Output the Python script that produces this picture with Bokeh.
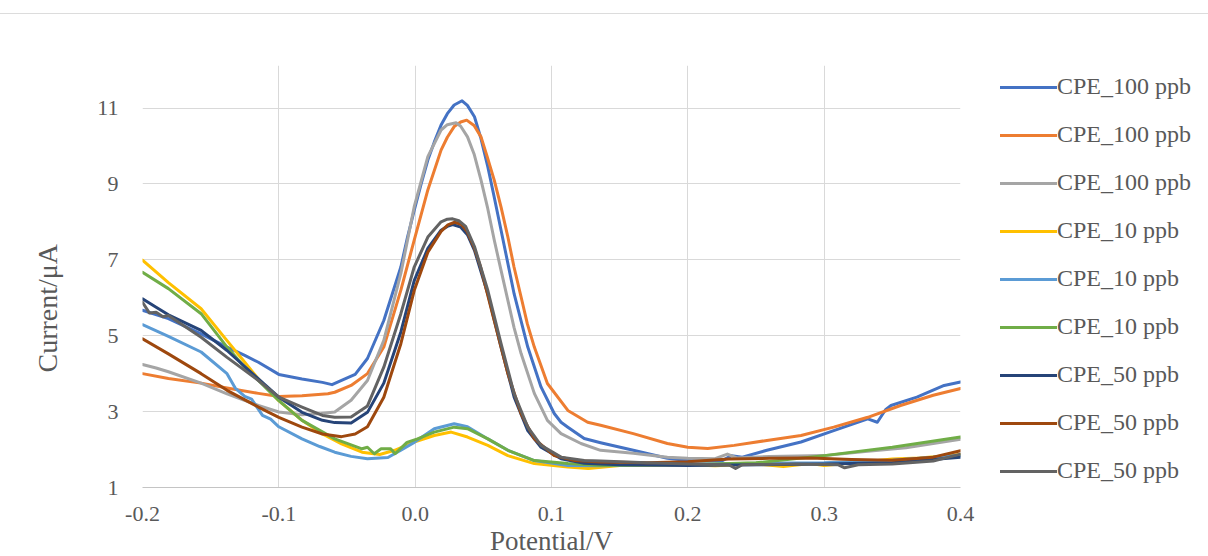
from bokeh.plotting import figure
from bokeh.models import (Range1d, FixedTicker, NumeralTickFormatter, Legend, LegendItem, Title)
from bokeh.embed import file_html
from bokeh.resources import INLINE

# ---- data (potential in V, current in uA) ----
labels = ["CPE_100 ppb", "CPE_100 ppb", "CPE_100 ppb",
          "CPE_10 ppb", "CPE_10 ppb", "CPE_10 ppb",
          "CPE_50 ppb", "CPE_50 ppb", "CPE_50 ppb"]
colors = ["#4472C4", "#ED7D31", "#A5A5A5", "#FFC000", "#5B9BD5",
          "#70AD47", "#264478", "#9E480E", "#636363"]

x_ticks = [-0.2, -0.1, 0.0, 0.1, 0.2, 0.3, 0.4]
y_ticks = [1, 3, 5, 7, 9, 11]

s1_x = [-0.2, -0.181, -0.157, -0.138, -0.125, -0.115, -0.1, -0.083, -0.068, -0.061, -0.054, -0.044,
        -0.035, -0.023, -0.0105, -0.0056, -0.0007, 0.0044, 0.0093, 0.014, 0.019, 0.0236, 0.0286,
        0.0344, 0.0383, 0.0435, 0.048, 0.0533, 0.058, 0.063,
        0.0726, 0.0826, 0.0923, 0.102, 0.107, 0.112, 0.124, 0.136, 0.16, 0.185, 0.2, 0.217, 0.225,
        0.232, 0.24, 0.258, 0.283, 0.307, 0.332, 0.339, 0.345, 0.349, 0.368, 0.388, 0.4]
s1_y = [5.67, 5.45, 5.05, 4.70, 4.48, 4.30, 3.98, 3.86, 3.77, 3.71, 3.82, 3.98,
        4.40, 5.40, 6.81, 7.60, 8.30, 9.00, 9.63, 10.10, 10.55, 10.85, 11.08,
        11.19, 11.07, 10.77, 10.23, 9.45, 8.65, 7.78,
        6.10, 4.70, 3.65, 2.95, 2.72, 2.59, 2.29, 2.18, 1.98, 1.77, 1.71, 1.72, 1.70,
        1.84, 1.80, 1.98, 2.20, 2.50, 2.81, 2.72, 3.05, 3.16, 3.38, 3.69, 3.78]

s2_x = [-0.2, -0.181, -0.157, -0.138, -0.115, -0.1, -0.083, -0.064, -0.059, -0.047, -0.035, -0.023,
        -0.0105, -0.0007, 0.0093, 0.019, 0.0236, 0.0286, 0.0334, 0.0378, 0.0432, 0.0483, 0.053,
        0.058, 0.063, 0.068, 0.0725, 0.0777, 0.0823, 0.0874,
        0.097, 0.112, 0.1265, 0.136, 0.16, 0.185, 0.2, 0.2146, 0.234, 0.258, 0.283, 0.307, 0.332,
        0.356, 0.38, 0.4]
s2_y = [4.00, 3.87, 3.75, 3.62, 3.48, 3.40, 3.42, 3.47, 3.51, 3.69, 4.00, 4.70,
        6.20, 7.52, 8.84, 9.89, 10.23, 10.51, 10.63, 10.68, 10.54, 10.24, 9.70,
        9.10, 8.39, 7.60, 6.81, 6.02, 5.31, 4.70,
        3.74, 3.03, 2.72, 2.64, 2.42, 2.16, 2.06, 2.03, 2.11, 2.24, 2.37, 2.59, 2.85,
        3.16, 3.43, 3.61]

s3_x = [-0.2, -0.19, -0.181, -0.157, -0.138, -0.115, -0.1, -0.083, -0.069, -0.059, -0.047, -0.035,
        -0.023, -0.0105, -0.0007, 0.0093, 0.019, 0.0236, 0.03, 0.0334, 0.0384, 0.0432, 0.0483,
        0.053, 0.058, 0.063, 0.068, 0.0725, 0.0777,
        0.0874, 0.097, 0.107, 0.1216, 0.136, 0.16, 0.185, 0.2, 0.22, 0.229, 0.236, 0.26, 0.3,
        0.33, 0.36, 0.4]
s3_y = [4.24, 4.15, 4.05, 3.75, 3.47, 3.16, 2.99, 2.92, 2.95, 2.99, 3.30, 3.82,
        4.88, 6.64, 8.40, 9.72, 10.42, 10.56, 10.61, 10.52, 10.24, 9.79, 9.10,
        8.39, 7.52, 6.72, 5.93, 5.22, 4.53,
        3.48, 2.77, 2.42, 2.16, 1.98, 1.90, 1.80, 1.77, 1.76, 1.88, 1.78, 1.82, 1.84,
        1.95, 2.05, 2.27]

s4_x = [-0.2, -0.181, -0.157, -0.138, -0.125, -0.115, -0.1, -0.083, -0.068, -0.054, -0.039, -0.026,
        -0.015, -0.0007, 0.014, 0.0264, 0.0384, 0.0533, 0.068, 0.0874, 0.112, 0.127, 0.15,
        0.2, 0.22, 0.25, 0.27, 0.29, 0.3, 0.33, 0.35, 0.37, 0.4]
s4_y = [6.99, 6.40, 5.71, 4.87, 4.30, 3.86, 3.29, 2.77, 2.41, 2.15, 1.93, 1.87,
        1.98, 2.20, 2.37, 2.46, 2.33, 2.11, 1.84, 1.63, 1.54, 1.50, 1.58,
        1.60, 1.57, 1.62, 1.55, 1.63, 1.58, 1.68, 1.75, 1.78, 1.87]

s5_x = [-0.2, -0.181, -0.157, -0.138, -0.132, -0.125, -0.12, -0.112, -0.106, -0.1, -0.083, -0.07,
        -0.059, -0.047, -0.035, -0.02, -0.0105, -0.0007, 0.014, 0.0286, 0.0384, 0.0533, 0.068,
        0.0874, 0.112, 0.136, 0.2, 0.3, 0.35, 0.4]
s5_y = [5.29, 4.98, 4.57, 4.00, 3.62, 3.40, 3.33, 2.90, 2.80, 2.60, 2.28, 2.08,
        1.93, 1.82, 1.76, 1.79, 1.98, 2.19, 2.55, 2.68, 2.60, 2.28, 1.98,
        1.71, 1.58, 1.57, 1.62, 1.65, 1.72, 1.85]

s6_x = [-0.2, -0.181, -0.157, -0.138, -0.125, -0.115, -0.1, -0.083, -0.059, -0.039, -0.035, -0.03,
        -0.025, -0.018, -0.0147, -0.006, 0.0017, 0.014, 0.0286, 0.0384, 0.0533, 0.068, 0.0874,
        0.112, 0.136, 0.2, 0.25, 0.3, 0.35, 0.4]
s6_y = [6.67, 6.24, 5.58, 4.70, 4.17, 3.82, 3.29, 2.77, 2.28, 2.02, 2.06, 1.89,
        2.02, 2.02, 1.89, 2.19, 2.28, 2.46, 2.59, 2.55, 2.28, 1.98, 1.71,
        1.63, 1.58, 1.60, 1.65, 1.84, 2.06, 2.33]

s7_x = [-0.2, -0.19, -0.181, -0.157, -0.138, -0.115, -0.1, -0.083, -0.068, -0.059, -0.047, -0.035,
        -0.023, -0.0105, -0.0007, 0.0093, 0.019, 0.0236, 0.0275, 0.0335, 0.0385, 0.0435, 0.0533,
        0.063, 0.0726, 0.0826, 0.0923, 0.107, 0.124, 0.136, 0.15, 0.2, 0.25, 0.3, 0.35, 0.4]
s7_y = [5.97, 5.75, 5.55, 5.14, 4.61, 3.86, 3.38, 2.98, 2.77, 2.71, 2.70, 2.98,
        3.75, 5.10, 6.45, 7.30, 7.78, 7.88, 7.93, 7.86, 7.65, 7.25, 6.10,
        4.70, 3.38, 2.50, 2.06, 1.76, 1.64, 1.62, 1.60, 1.58, 1.60, 1.62, 1.65, 1.80]

s8_x = [-0.2, -0.181, -0.157, -0.138, -0.115, -0.1, -0.083, -0.068, -0.054, -0.044, -0.035, -0.023,
        -0.0105, -0.0007, 0.0093, 0.019, 0.024, 0.029, 0.034, 0.038, 0.043, 0.048, 0.058, 0.068,
        0.0777, 0.0874, 0.102, 0.117, 0.136, 0.17, 0.2, 0.23, 0.26, 0.29, 0.32, 0.35, 0.38, 0.4]
s8_y = [4.92, 4.52, 4.00, 3.56, 3.12, 2.85, 2.59, 2.41, 2.34, 2.41, 2.60, 3.38,
        4.79, 6.19, 7.20, 7.75, 7.92, 7.99, 7.93, 7.75, 7.35, 6.81, 5.40, 4.00,
        2.94, 2.28, 1.84, 1.71, 1.67, 1.65, 1.68, 1.75, 1.77, 1.78, 1.74, 1.72, 1.80, 1.97]

s9_x = [-0.2, -0.195, -0.19, -0.185, -0.181, -0.157, -0.138, -0.115, -0.1, -0.083, -0.068, -0.059,
        -0.047, -0.035, -0.023, -0.0105, -0.0007, 0.0093, 0.019, 0.0236, 0.0275, 0.032, 0.037,
        0.0435, 0.0533, 0.063, 0.0726, 0.0826, 0.0923, 0.107, 0.124, 0.136, 0.17, 0.2, 0.23,
        0.235, 0.24, 0.28, 0.31, 0.315, 0.325, 0.35, 0.38, 0.4]
s9_y = [5.88, 5.60, 5.62, 5.50, 5.53, 4.96, 4.43, 3.82, 3.38, 3.12, 2.90, 2.85,
        2.86, 3.15, 4.17, 5.58, 6.81, 7.60, 8.00, 8.07, 8.08, 8.03, 7.88,
        7.35, 6.19, 4.79, 3.47, 2.59, 2.11, 1.80, 1.71, 1.70, 1.65, 1.62, 1.60,
        1.50, 1.60, 1.62, 1.60, 1.52, 1.60, 1.62, 1.70, 1.88]

series_x = [s1_x, s2_x, s3_x, s4_x, s5_x, s6_x, s7_x, s8_x, s9_x]
series_y = [s1_y, s2_y, s3_y, s4_y, s5_y, s6_y, s7_y, s8_y, s9_y]

FONT = "Liberation Serif"
TXT = "#595959"
GRID = "#d9d9d9"

p = figure(frame_width=818, frame_height=422, output_backend="svg", toolbar_location=None,
           x_range=Range1d(-0.2, 0.4), y_range=Range1d(1, 12.12),
           min_border_left=142, min_border_right=247, min_border_top=51, min_border_bottom=68)
p.margin = (13, 0, 0, 0)
p.styles = {"border-top": "1px solid #dcdcdc"}
p.outline_line_color = None
p.background_fill_color = "white"
p.border_fill_color = "white"

p.xaxis.ticker = FixedTicker(ticks=x_ticks)
p.xaxis.formatter = NumeralTickFormatter(format="0.0")
p.yaxis.ticker = FixedTicker(ticks=y_ticks)
for ax in (p.xaxis[0], p.yaxis[0]):
    ax.major_tick_line_color = None
    ax.minor_tick_line_color = None
    ax.major_label_text_font = FONT
    ax.major_label_text_font_size = "22px"
    ax.major_label_text_color = TXT
p.xaxis.axis_line_color = "#c4c4c4"
p.xaxis.axis_line_width = 1
p.yaxis.axis_line_color = None
p.xaxis.major_label_standoff = 13
p.yaxis.major_tick_out = 0
p.yaxis.major_tick_in = 0
p.yaxis.major_label_standoff = 24

p.xaxis.axis_label = "Potential/V"
p.xaxis.axis_label_standoff = 2
p.xaxis.axis_label_text_font = FONT
p.xaxis.axis_label_text_font_size = "27px"
p.xaxis.axis_label_text_font_style = "normal"
p.xaxis.axis_label_text_color = TXT

p.xgrid.ticker = FixedTicker(ticks=x_ticks)
p.ygrid.ticker = FixedTicker(ticks=[3, 5, 7, 9, 11])
p.xgrid.grid_line_color = GRID
p.ygrid.grid_line_color = GRID

items = []
for xs, ys, c, lab in zip(series_x, series_y, colors, labels):
    r = p.line(xs, ys, line_color=c, line_width=3, line_join="round", line_cap="round")
    items.append(LegendItem(label=lab, renderers=[r]))

legend = Legend(items=items, location=(40, 3), glyph_width=57, glyph_height=20,
                label_standoff=0, spacing=21, padding=0, margin=0,
                label_text_font=FONT, label_text_font_size="24px", label_text_color=TXT,
                border_line_color=None, background_fill_alpha=0)
p.add_layout(legend, "right")

ytitle = Title(text="Current/μA", align="left", vertical_align="top", offset=115, standoff=59,
               text_font=FONT, text_font_size="28px", text_font_style="normal",
               text_color=TXT)
p.add_layout(ytitle, "left")

open("out.html", "w").write(file_html(p, INLINE))
